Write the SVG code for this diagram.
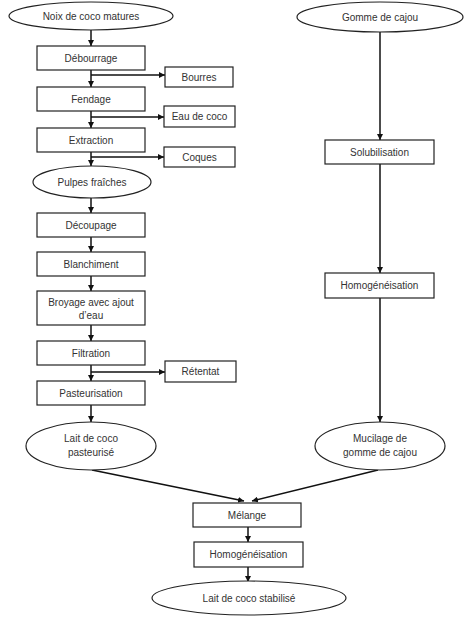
<svg xmlns="http://www.w3.org/2000/svg" width="474" height="618" viewBox="0 0 474 618">
<style>
.n{fill:#fff;stroke:#222;stroke-width:1.2}
.t{font-family:"Liberation Sans",Arial,sans-serif;font-size:10px;fill:#333;text-anchor:middle}
.c{stroke:#111;stroke-width:1.5;fill:none}
</style>
<defs>
<marker id="a" viewBox="0 0 10 10" refX="10" refY="5" markerWidth="6" markerHeight="6" markerUnits="userSpaceOnUse" orient="auto"><path d="M0,0L10,5L0,10z" fill="#111"/></marker>
</defs>
<rect width="474" height="618" fill="#fff"/>
<g id="connectors">
<path class="c" marker-end="url(#a)" d="M91,30V46"/>
<path class="c" marker-end="url(#a)" d="M91,70V87"/>
<path class="c" marker-end="url(#a)" d="M91,75H165"/>
<path class="c" marker-end="url(#a)" d="M91,111V128"/>
<path class="c" marker-end="url(#a)" d="M91,117H164"/>
<path class="c" marker-end="url(#a)" d="M91,152V166"/>
<path class="c" marker-end="url(#a)" d="M91,157H164"/>
<path class="c" marker-end="url(#a)" d="M91,198V213"/>
<path class="c" marker-end="url(#a)" d="M91,237V252"/>
<path class="c" marker-end="url(#a)" d="M91,276V291"/>
<path class="c" marker-end="url(#a)" d="M91,325V341"/>
<path class="c" marker-end="url(#a)" d="M91,365V381"/>
<path class="c" marker-end="url(#a)" d="M91,372H165"/>
<path class="c" marker-end="url(#a)" d="M91,405V422"/>
<path class="c" marker-end="url(#a)" d="M380,32V140"/>
<path class="c" marker-end="url(#a)" d="M380,164V273"/>
<path class="c" marker-end="url(#a)" d="M380,298V422"/>
<path class="c" marker-end="url(#a)" d="M92,470L244,501"/>
<path class="c" marker-end="url(#a)" d="M378,470L252,501"/>
<path class="c" marker-end="url(#a)" d="M248,527V542"/>
<path class="c" marker-end="url(#a)" d="M248,567V582"/>
</g>
<g id="noix"><ellipse class="n" cx="91" cy="16" rx="82" ry="14"/><text class="t" x="91" y="19.5">Noix de coco matures</text></g>
<g id="debourrage"><rect class="n" x="37" y="46" width="108" height="24"/><text class="t" x="91" y="61.5">Débourrage</text></g>
<g id="bourres"><rect class="n" x="165" y="67" width="68" height="20"/><text class="t" x="199" y="80.5">Bourres</text></g>
<g id="fendage"><rect class="n" x="37" y="87" width="108" height="24"/><text class="t" x="91" y="102.5">Fendage</text></g>
<g id="eau"><rect class="n" x="164" y="106" width="71" height="21"/><text class="t" x="199.5" y="120">Eau de coco</text></g>
<g id="extraction"><rect class="n" x="37" y="128" width="108" height="24"/><text class="t" x="91" y="143.5">Extraction</text></g>
<g id="coques"><rect class="n" x="164" y="147" width="71" height="20"/><text class="t" x="199.5" y="160.5">Coques</text></g>
<g id="pulpes"><ellipse class="n" cx="92" cy="182" rx="59" ry="16"/><text class="t" x="92" y="185.5">Pulpes fraîches</text></g>
<g id="decoupage"><rect class="n" x="37" y="213" width="108" height="24"/><text class="t" x="91" y="228.5">Découpage</text></g>
<g id="blanchiment"><rect class="n" x="37" y="252" width="108" height="24"/><text class="t" x="91" y="267.5">Blanchiment</text></g>
<g id="broyage"><rect class="n" x="37" y="291" width="108" height="34"/><text class="t" x="91" y="306">Broyage avec ajout</text><text class="t" x="91" y="319">d’eau</text></g>
<g id="filtration"><rect class="n" x="37" y="341" width="108" height="24"/><text class="t" x="91" y="356.5">Filtration</text></g>
<g id="retentat"><rect class="n" x="165" y="361" width="71" height="21"/><text class="t" x="200.5" y="375">Rétentat</text></g>
<g id="pasteurisation"><rect class="n" x="37" y="381" width="108" height="24"/><text class="t" x="91" y="396.5">Pasteurisation</text></g>
<g id="laitpast"><ellipse class="n" cx="91" cy="446" rx="65" ry="24"/><text class="t" x="91" y="442">Lait de coco</text><text class="t" x="91" y="456">pasteurisé</text></g>
<g id="gomme"><ellipse class="n" cx="380" cy="17" rx="83" ry="15"/><text class="t" x="380" y="20.5">Gomme de cajou</text></g>
<g id="solubilisation"><rect class="n" x="325" y="140" width="109" height="24"/><text class="t" x="379.5" y="155.5">Solubilisation</text></g>
<g id="homog1"><rect class="n" x="325" y="273" width="109" height="25"/><text class="t" x="379.5" y="289">Homogénéisation</text></g>
<g id="mucilage"><ellipse class="n" cx="380" cy="446" rx="65" ry="24"/><text class="t" x="380" y="442">Mucilage de</text><text class="t" x="380" y="456">gomme de cajou</text></g>
<g id="melange"><rect class="n" x="193" y="503" width="108" height="24"/><text class="t" x="247" y="518.5">Mélange</text></g>
<g id="homog2"><rect class="n" x="194" y="542" width="109" height="25"/><text class="t" x="248.5" y="558">Homogénéisation</text></g>
<g id="laitstab"><ellipse class="n" cx="249" cy="598" rx="97" ry="17"/><text class="t" x="249" y="601.5">Lait de coco stabilisé</text></g>
</svg>
